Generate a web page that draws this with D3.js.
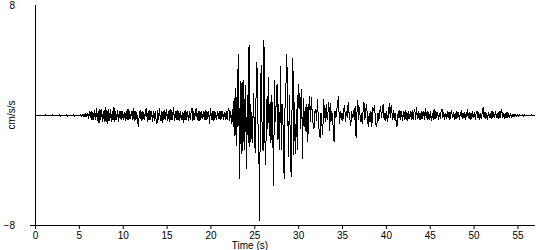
<!DOCTYPE html>
<html>
<head>
<meta charset="utf-8">
<script src="https://cdn.jsdelivr.net/npm/d3@7"></script>
<style>
  html, body { margin: 0; padding: 0; background: #fff; }
  svg { display: block; }
  text { font-family: "Liberation Sans", Arial, sans-serif; font-size: 10px; fill: #000; }
</style>
</head>
<body>
<svg id="chart" width="550" height="250"></svg>
<script>
// ---- data ----
const sampleStep = 0.1;          // seconds between samples
const startTime = 0;             // s
const xTicks = [0, 5, 10, 15, 20, 25, 30, 35, 40, 45, 50, 55];
const yTicks = [-8, 8];
const xLabel = "Time (s)";
const yLabel = "cm/s/s";
// acceleration, cm/s/s, one row per second
const accel = [
  0, 0, 0, 0, 0.02, -0.02, 0.02, -0.02, 0.02, -0.02,
  0.03, -0.03, 0.03, -0.03, 0.03, -0.03, 0.03, -0.03, 0.03, -0.03,
  0.03, -0.03, 0.03, -0.03, 0.03, -0.03, 0.03, -0.03, 0.03, -0.03,
  0.03, -0.03, 0.03, -0.03, 0.03, -0.03, 0.03, -0.03, 0.03, -0.03,
  0.03, -0.03, 0.03, -0.03, 0.03, -0.03, 0.03, -0.03, 0.03, -0.03,
  0.03, -0.03, 0.04, -0.05, 0.06, -0.08, 0.1, -0.12, 0.15, -0.1,
  0.2, -0.25, 0.3, -0.2, 0.35, -0.3, 0.25, -0.35, 0.4, -0.3,
  0.55, -0.4, 0.3, -0.55, 0.45, -0.35, 0.5, -0.45, 0.35, -0.5,
  0.6, -0.45, 0.4, -0.65, 0.5, -0.4, 0.45, -0.5, 0.3, -0.35,
  0.6, -0.5, 0.35, -0.3, 0.4, -0.45, 0.3, -0.25, 0.35, -0.3,
  0.3, -0.35, 0.25, -0.4, 0.35, -0.3, 0.5, -0.35, 0.3, -0.25,
  0.35, -0.3, 0.55, -0.4, 0.3, -0.35, 0.25, -0.5, -0.8, 0.3,
  0.35, -0.4, 0.3, -0.35, 0.25, -0.3, 0.4, 0.55, -0.45, 0.3,
  -0.35, 0.4, -0.3, 0.35, -0.45, 0.3, -0.4, 0.35, -0.3, -0.6,
  0.4, -0.35, 0.55, -0.4, 0.3, -0.55, 0.35, -0.3, 0.4, -0.35,
  0.45, -0.4, 0.35, -0.45, 0.5, -0.35, 0.4, -0.3, 0.6, -0.4,
  0.35, -0.3, 0.4, -0.35, 0.3, -0.4, 0.35, -0.3, 0.25, -0.55,
  0.3, -0.35, 0.4, -0.3, 0.35, -0.4, 0.3, -0.35, 0.3, 0.55,
  -0.4, 0.35, -0.3, 0.4, 0.5, -0.35, 0.3, -0.4, 0.35, -0.3,
  0.3, -0.25, 0.35, -0.3, 0.4, -0.35, 0.3, -0.25, 0.35, -0.6,
  0.55, -0.35, 0.3, -0.4, 0.35, -0.3, 0.25, -0.35, 0.3, -0.25,
  0.3, -0.3, 0.35, -0.25, 0.3, -0.35, 0.25, -0.3, 0.35, -0.3,
  0.3, 0.55, -0.4, 0.35, -0.6, 0.5, -0.85, 1.3, -1.5, 2.0,
  -2.2, 2.5, 4.5, -4.6, 2.5, -2.8, 2.4, -2.6, 2.6, -2.5,
  2.2, -3.9, 1.5, -2.0, 5.1, -2.3, 0.8, -1.5, -2.0, 1.6,
  -1.0, -2.7, 1.5, 3.9, -0.5, -1.0, -7.7, 2.0, 3.7, -1.5,
  -2.6, 5.5, -1.5, -3.6, 1.2, -1.0, 2.8, -1.5, 1.0, -2.0,
  1.5, -1.0, -5.1, 2.6, -0.5, 1.0, 2.3, -1.8, 0.8, -2.5,
  3.6, -2.5, 0.8, -1.2, -4.6, 0.5, 2.0, 4.5, 1.0, -3.0,
  1.5, -1.5, -4.5, 0.5, 4.2, -2.9, 1.0, -2.8, 0.5, -2.5,
  2.3, 0.5, 1.6, -1.0, 1.9, -3.15, 1.3, -0.8, 0.6, -1.2,
  0.85, -1.9, 0.4, 1.45, -0.5, 1.33, 0.2, -0.6, -1.0, 0.3,
  0.5, -0.4, 1.2, -0.3, -1.2, -1.6, 0.2, -0.6, -1.45, 1.2,
  0.3, -0.5, 0.85, -0.3, 0.2, 1.0, -1.1, 0.9, -0.4, 0.2,
  -1.0, -1.94, 0.3, -0.2, 0.4, 0.8, 1.45, -0.6, 0.3, -0.3,
  0.2, -0.4, 0.5, 0.73, -0.5, 0.3, -0.2, 0.97, 0.2, -0.3,
  -0.73, 0.3, -0.2, 0.4, -0.3, 0.7, -1.6, 0.2, 1.1, -0.3,
  0.6, -0.5, 0.2, -0.6, 0.3, 1.0, -0.3, 0.4, 0.85, -0.2,
  -0.8, 0.2, -0.5, 0.3, -0.8, 0.6, 0.3, 0.75, -0.2, -0.85,
  -0.5, 0.2, -0.4, 0.3, 0.65, -0.2, 0.4, 0.85, -0.3, 0.2,
  -0.4, 0.3, -0.5, 0.3, 0.9, -0.2, 0.76, 0.2, -0.3, 0.4,
  -0.3, 0.2, -0.8, -0.73, 0.3, -0.2, 0.4, -0.3, 0.35, -0.4,
  0.3, -0.35, 0.4, -0.3, 0.25, -0.4, 0.3, -0.25, 0.35, -0.3,
  0.4, -0.3, 0.25, 0.45, -0.3, 0.6, -0.25, 0.3, -0.35, 0.2,
  -0.3, 0.35, -0.25, 0.3, -0.3, 0.55, -0.2, 0.3, -0.3, 0.25,
  -0.35, 0.3, -0.4, 0.2, -0.3, 0.5, -0.25, 0.3, -0.2, 0.25,
  -0.3, 0.2, -0.25, 0.3, 0.45, -0.2, 0.25, -0.3, 0.2, -0.25,
  0.3, -0.2, 0.25, -0.3, 0.2, 0.35, -0.2, 0.25, -0.3, 0.2,
  -0.25, 0.3, -0.2, 0.25, -0.3, 0.2, 0.3, -0.25, 0.2, -0.2,
  0.25, -0.3, 0.2, 0.35, -0.2, 0.25, -0.3, 0.2, -0.25, 0.3,
  -0.2, 0.25, -0.3, 0.2, 0.3, -0.2, 0.25, -0.35, 0.2, -0.25,
  0.3, 0.65, -0.2, 0.25, -0.25, 0.2, -0.3, 0.25, -0.2, 0.2,
  -0.25, 0.3, -0.2, 0.25, -0.2, 0.3, -0.15, 0.2, -0.25, 0.3,
  -0.2, 0.25, 0.5, -0.2, 0.2, -0.25, 0.15, -0.2, 0.25, -0.15,
  0.2, -0.15, 0.15, -0.1, 0.1, -0.08, 0.08, -0.06, 0.06, -0.05,
  0.05, -0.05, 0.05, -0.04, 0.04, -0.04, 0.04, -0.03, 0.03, -0.03,
  0.03, -0.03, 0.03, -0.03, 0.03, -0.03, 0.03, -0.03, 0.03, -0.03,
  0
];

// ---- drawing ----
const svg = d3.select("#chart");
const x = d3.scaleLinear().domain([0, 57]).range([35, 535]);
const y = d3.scaleLinear().domain([-8, 8]).range([225, 5]);

// trace
const line = d3.line()
  .x((d, i) => x(startTime + i * sampleStep))
  .y(d => y(d));
svg.append("path")
  .datum(accel)
  .attr("d", line)
  .attr("transform", "translate(0,0.5)")
  .attr("fill", "none")
  .attr("stroke", "#000")
  .attr("stroke-width", 1)
  .attr("shape-rendering", "crispEdges");

// x axis
const xAxis = svg.append("g")
  .attr("transform", `translate(0,${y(-8)})`)
  .call(d3.axisBottom(x).tickValues(xTicks).tickSize(4).tickPadding(3).tickSizeOuter(0));
xAxis.select(".domain").remove();
xAxis.selectAll("text").style("font-family", '"Liberation Sans", Arial, sans-serif').style("font-size", "10px");
xAxis.selectAll("line").attr("stroke", "#000");
svg.append("line")
  .attr("x1", x(0) - 5).attr("x2", x(57))
  .attr("y1", y(-8) + 0.5).attr("y2", y(-8) + 0.5)
  .attr("stroke", "#000");

// y axis
const yAxis = svg.append("g")
  .attr("transform", `translate(${x(0)},0)`)
  .call(d3.axisLeft(y).tickValues(yTicks).tickSize(0).tickPadding(20).tickFormat(d3.format("d")));
yAxis.select(".domain").remove();
yAxis.selectAll("text").style("font-family", '"Liberation Sans", Arial, sans-serif').style("font-size", "10px");
svg.append("line")
  .attr("x1", x(0) + 0.5).attr("x2", x(0) + 0.5)
  .attr("y1", y(8)).attr("y2", y(-8))
  .attr("stroke", "#000");

// axis titles
svg.append("text")
  .attr("x", x(24.5))
  .attr("y", 249)
  .attr("text-anchor", "middle")
  .text(xLabel);
svg.append("text")
  .attr("transform", `translate(15,${y(0)}) rotate(-90)`)
  .attr("text-anchor", "middle")
  .text(yLabel);
</script>
</body>
</html>
